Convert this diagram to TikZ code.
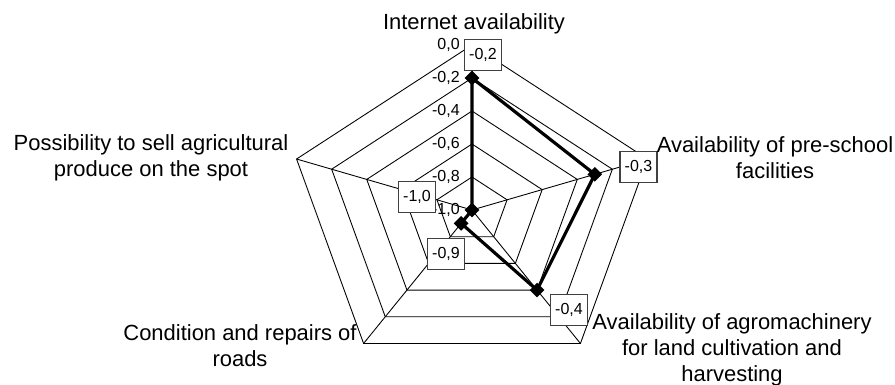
\documentclass[tikz,border=0pt]{standalone}
\usepackage{fontspec}
\setmainfont{Liberation Sans}
\usetikzlibrary{shapes.geometric}
\tikzset{
  ring/.style={draw=black, line width=0.5pt},
  series/.style={draw=black, line width=1.8pt, line join=round},
  dmark/.style={diamond, aspect=1, fill=black, inner sep=0pt, minimum size=0.3cm},
  vbox/.style={draw=black!75, fill=white, line width=0.6pt, minimum width=0.74cm,
    minimum height=0.62cm, inner sep=0pt, font=\fontsize{9.1}{11}\selectfont},
  axlbl/.style={anchor=east, inner sep=0pt, font=\fontsize{9.1}{11}\selectfont},
  cat/.style={align=center, inner sep=0pt, font=\fontsize{12.5}{14.75}\selectfont}
}

\begin{document}
\begin{tikzpicture}[x=0.02cm, y=-0.02cm]
  \useasboundingbox (0,0) rectangle (895,385);

  \begin{scope}[shift={(472,210)}, x={(3.69cm,0)}, y={(0,3.3cm)}]
    \coordinate (C) at (0,0);

    % rings
    \draw[ring] (90:1) -- (18:1) -- (-54:1) -- (-126:1) -- (162:1) -- cycle;
    \draw[ring] (90:0.8) -- (18:0.8) -- (-54:0.8) -- (-126:0.8) -- (162:0.8) -- cycle;
    \draw[ring] (90:0.6) -- (18:0.6) -- (-54:0.6) -- (-126:0.6) -- (162:0.6) -- cycle;
    \draw[ring] (90:0.4) -- (18:0.4) -- (-54:0.4) -- (-126:0.4) -- (162:0.4) -- cycle;
    \draw[ring] (90:0.2) -- (18:0.2) -- (-54:0.2) -- (-126:0.2) -- (162:0.2) -- cycle;

    % spokes
    \draw[ring] (C) -- (90:1);
    \draw[ring] (C) -- (18:1);
    \draw[ring] (C) -- (-54:1);
    \draw[ring] (C) -- (-126:1);
    \draw[ring] (C) -- (162:1);

    % values
    \coordinate (I) at (90:0.8);
    \coordinate (S) at (18:0.7);
    \coordinate (M) at (-54:0.6);
    \coordinate (R) at (-126:0.1);
    \coordinate (P) at (C);

    \draw[series] (I) -- (S) -- (M) -- (R) -- (P) -- cycle;

    \node[dmark] (mI) at (I) {};
    \node[dmark] (mS) at (S) {};
    \node[dmark] (mM) at (M) {};
    \node[dmark] (mR) at (R) {};
    \node[dmark] (mP) at (P) {};
  \end{scope}

  % axis values
  \node[axlbl] (t0) at (460,45) {0,0};
  \node[axlbl] (t2) at (460,78) {-0,2};
  \node[axlbl] (t4) at (460,111) {-0,4};
  \node[axlbl] (t6) at (460,144) {-0,6};
  \node[axlbl] (t8) at (460,177) {-0,8};
  \node[axlbl] (t10) at (460,210) {-1,0};

  % data labels
  \node[vbox] (vI) at (483,55) {-0,2};
  \node[vbox] (vS) at (638.5,167) {-0,3};
  \node[vbox] (vM) at (569,310) {-0,4};
  \node[vbox] (vR) at (446,254) {-0,9};
  \node[vbox] (vP) at (417,197) {-1,0};

  % categories
  \node[cat] (cI) at (474,24) {Internet availability};
  \node[cat] (cS) at (775,157.5) {Availability of pre-school\\facilities};
  \node[cat] (cM) at (732,349.5) {Availability of agromachinery\\for land cultivation and\\harvesting};
  \node[cat] (cR) at (240,345.5) {Condition and repairs of\\roads};
  \node[cat] (cP) at (151,157.5) {Possibility to sell agricultural\\produce on the spot};
\end{tikzpicture}
\end{document}
